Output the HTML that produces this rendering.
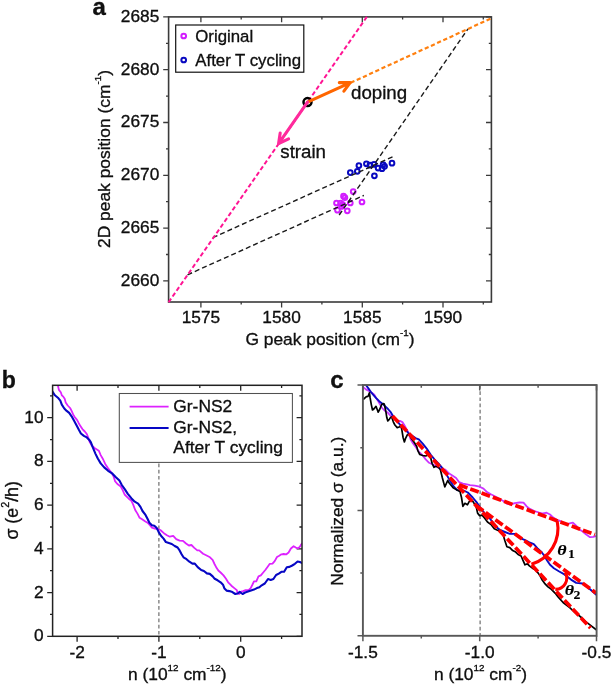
<!DOCTYPE html>
<html><head><meta charset="utf-8"><style>
html,body{margin:0;padding:0;background:#fff;}
svg{display:block;font-family:"Liberation Sans", sans-serif;fill:#111;will-change:transform;}
text{stroke:#000;stroke-width:0.3px;}
</style></head><body>
<svg width="612" height="685" viewBox="0 0 612 685" font-family='"Liberation Sans", sans-serif' fill="#111">
<g id="pa">
<path d="M200.9,302.0v5.4M200.9,16.9v5.4M281.6,302.0v5.4M281.6,16.9v5.4M362.3,302.0v5.4M362.3,16.9v5.4M443.0,302.0v5.4M443.0,16.9v5.4M241.2,302.0v2.6M241.2,16.9v2.6M321.9,302.0v2.6M321.9,16.9v2.6M402.6,302.0v2.6M402.6,16.9v2.6M483.3,302.0v2.6M483.3,16.9v2.6M168.6,280.9h-5.4M491.4,280.9h-5.4M168.6,228.1h-5.4M491.4,228.1h-5.4M168.6,175.3h-5.4M491.4,175.3h-5.4M168.6,122.5h-5.4M491.4,122.5h-5.4M168.6,69.7h-5.4M491.4,69.7h-5.4M168.6,16.9h-5.4M491.4,16.9h-5.4M168.6,254.5h-2.6M491.4,254.5h-2.6M168.6,201.7h-2.6M491.4,201.7h-2.6M168.6,148.9h-2.6M491.4,148.9h-2.6M168.6,96.1h-2.6M491.4,96.1h-2.6M168.6,43.3h-2.6M491.4,43.3h-2.6" stroke="#3a3a3a" stroke-width="1.3" fill="none"/>
<rect x="168.6" y="16.9" width="322.8" height="285.1" fill="none" stroke="#3a3a3a" stroke-width="1.6"/>
<text x="159.3" y="285.8" text-anchor="end" font-size="17.3">2660</text>
<text x="159.3" y="233.0" text-anchor="end" font-size="17.3">2665</text>
<text x="159.3" y="180.2" text-anchor="end" font-size="17.3">2670</text>
<text x="159.3" y="127.4" text-anchor="end" font-size="17.3">2675</text>
<text x="159.3" y="74.6" text-anchor="end" font-size="17.3">2680</text>
<text x="159.3" y="21.8" text-anchor="end" font-size="17.3">2685</text>
<text x="200.9" y="323.4" text-anchor="middle" font-size="17.3">1575</text>
<text x="281.6" y="323.4" text-anchor="middle" font-size="17.3">1580</text>
<text x="362.3" y="323.4" text-anchor="middle" font-size="17.3">1585</text>
<text x="443.0" y="323.4" text-anchor="middle" font-size="17.3">1590</text>
<text x="330" y="344.6" text-anchor="middle" font-size="17.4">G peak position (cm<tspan font-size="9.9" dy="-8.5">-1</tspan><tspan dy="8.5">)</tspan></text>
<text transform="translate(109.8,159) rotate(-90)" x="0" y="0" text-anchor="middle" font-size="17.4">2D peak position (cm<tspan font-size="9.9" dy="-8.5">-1</tspan><tspan dy="8.5">)</tspan></text>
<text x="92.4" y="14.6" font-size="24" font-weight="bold">a</text>
<circle cx="353.2" cy="191.5" r="2.35" fill="none" stroke="#d21cff" stroke-width="2.0"/>
<circle cx="343.5" cy="196.2" r="2.35" fill="none" stroke="#d21cff" stroke-width="2.0"/>
<circle cx="344.9" cy="197.6" r="2.35" fill="none" stroke="#d21cff" stroke-width="2.0"/>
<circle cx="336.5" cy="203" r="2.35" fill="none" stroke="#d21cff" stroke-width="2.0"/>
<circle cx="350.3" cy="203" r="2.35" fill="none" stroke="#d21cff" stroke-width="2.0"/>
<circle cx="342.7" cy="204.6" r="2.35" fill="none" stroke="#d21cff" stroke-width="2.0"/>
<circle cx="340.6" cy="203.2" r="2.35" fill="none" stroke="#d21cff" stroke-width="2.0"/>
<circle cx="362" cy="202" r="2.35" fill="none" stroke="#d21cff" stroke-width="2.0"/>
<circle cx="337.5" cy="210.2" r="2.35" fill="none" stroke="#d21cff" stroke-width="2.0"/>
<circle cx="347.3" cy="210.8" r="2.35" fill="none" stroke="#d21cff" stroke-width="2.0"/>
<circle cx="341.5" cy="206.5" r="2.35" fill="none" stroke="#d21cff" stroke-width="2.0"/>
<circle cx="350.3" cy="172.6" r="2.35" fill="none" stroke="#0808c0" stroke-width="2.0"/>
<circle cx="357.3" cy="171.3" r="2.35" fill="none" stroke="#0808c0" stroke-width="2.0"/>
<circle cx="358.9" cy="165.6" r="2.35" fill="none" stroke="#0808c0" stroke-width="2.0"/>
<circle cx="366.4" cy="163.8" r="2.35" fill="none" stroke="#0808c0" stroke-width="2.0"/>
<circle cx="369.9" cy="165.2" r="2.35" fill="none" stroke="#0808c0" stroke-width="2.0"/>
<circle cx="374" cy="164.4" r="2.35" fill="none" stroke="#0808c0" stroke-width="2.0"/>
<circle cx="374.4" cy="175.8" r="2.35" fill="none" stroke="#0808c0" stroke-width="2.0"/>
<circle cx="378.1" cy="168.1" r="2.35" fill="none" stroke="#0808c0" stroke-width="2.0"/>
<circle cx="383.1" cy="164.6" r="2.35" fill="none" stroke="#0808c0" stroke-width="2.0"/>
<circle cx="384.6" cy="166.3" r="2.35" fill="none" stroke="#0808c0" stroke-width="2.0"/>
<circle cx="382.0" cy="168.7" r="2.35" fill="none" stroke="#0808c0" stroke-width="2.0"/>
<circle cx="392" cy="163.2" r="2.35" fill="none" stroke="#0808c0" stroke-width="2.0"/>
<line x1="187.5" y1="274.8" x2="363.9" y2="195.4" stroke="#1a1a1a" stroke-width="1.4" stroke-dasharray="5 3"/>
<line x1="212.8" y1="237.6" x2="394.1" y2="156.2" stroke="#1a1a1a" stroke-width="1.4" stroke-dasharray="5 3"/>
<line x1="339.2" y1="215.0" x2="468.0" y2="28.8" stroke="#1a1a1a" stroke-width="1.4" stroke-dasharray="5 3"/>
<line x1="168.6" y1="302.2" x2="366.8" y2="16.9" stroke="#ff1493" stroke-width="2.0" stroke-dasharray="4.4 2.6"/>
<line x1="350.6" y1="82.8" x2="491.4" y2="18.2" stroke="#ff8010" stroke-width="2.2" stroke-dasharray="4.2 2.6"/>
<circle cx="307.5" cy="102.1" r="4.0" fill="none" stroke="#000" stroke-width="2.5"/>
<path d="M307.5,102.1L349.8,82.8M339.3,82.6L350.2,82.6L343.9,91.2" stroke="#ff6600" stroke-width="3.1" fill="none" stroke-linejoin="round" stroke-linecap="round"/>
<path d="M307.5,102.1L278.6,143.6M280.2,133.0L278.6,143.6L288.6,138.8" stroke="#ff2a9c" stroke-width="3.1" fill="none" stroke-linejoin="round" stroke-linecap="round"/>
<text x="351" y="99.2" font-size="18.7">doping</text>
<text x="280.3" y="157.9" font-size="18.7">strain</text>
<rect x="175.7" y="25" width="128.1" height="47.2" fill="#fff" stroke="#111" stroke-width="1.2"/>
<circle cx="183.7" cy="36" r="2.35" fill="none" stroke="#d21cff" stroke-width="2.0"/>
<circle cx="183.7" cy="60" r="2.35" fill="none" stroke="#0808c0" stroke-width="2.0"/>
<text x="195.3" y="42.2" font-size="16.8">Original</text>
<text x="195.3" y="65.8" font-size="16.8">After T cycling</text>
</g>
<path d="M77.1,636.3v5.4M77.1,385.3v5.4M158.9,636.3v5.4M158.9,385.3v5.4M240.7,636.3v5.4M240.7,385.3v5.4M118.0,636.3v2.6M118.0,385.3v2.6M199.8,636.3v2.6M199.8,385.3v2.6M281.6,636.3v2.6M281.6,385.3v2.6M52.6,636.3h-5.4M302.0,636.3h-5.4M52.6,592.6h-5.4M302.0,592.6h-5.4M52.6,548.9h-5.4M302.0,548.9h-5.4M52.6,505.1h-5.4M302.0,505.1h-5.4M52.6,461.4h-5.4M302.0,461.4h-5.4M52.6,417.7h-5.4M302.0,417.7h-5.4M52.6,614.4h-2.6M302.0,614.4h-2.6M52.6,570.7h-2.6M302.0,570.7h-2.6M52.6,527.0h-2.6M302.0,527.0h-2.6M52.6,483.3h-2.6M302.0,483.3h-2.6M52.6,439.6h-2.6M302.0,439.6h-2.6M52.6,395.8h-2.6M302.0,395.8h-2.6" stroke="#222" stroke-width="1.3" fill="none"/>
<line x1="158.9" y1="463.5" x2="158.9" y2="636.3" stroke="#606060" stroke-width="1.1" stroke-dasharray="3.7 2.5"/>
<defs><clipPath id="cb"><rect x="52.6" y="385.3" width="249.4" height="250.99999999999994"/></clipPath><clipPath id="cc"><rect x="362.9" y="385" width="233.7" height="250.8"/></clipPath></defs>
<g clip-path="url(#cb)" fill="none" stroke-width="1.9" stroke-linejoin="round">
<polyline points="57.4,383.5 57.9,385.5 58.9,389.9 60.8,392.3 61.8,395.3 63.3,396.7 64.7,398.7 65.7,402.6 67.7,405.5 70.1,408.0 71.6,410.9 73.1,414.4 74.5,416.8 77.0,419.8 78.5,422.7 80.4,426.1 82.4,429.1 84.8,431.5 86.8,434.0 88.3,437.9 89.6,441.8 91.9,445.8 94.9,448.2 98.8,450.7 100.7,455.1 103.2,459.5 105.2,463.9 108.1,468.3 111.5,472.7 113.5,476.2 115.0,481.1 117.4,484.0 120.8,486.5 122.8,490.4 124.6,494.5 126.4,496.3 128.3,498.2 131.3,500.7 133.2,504.6 135.2,510.0 137.6,513.9 139.6,517.8 142.1,519.3 145.0,521.3 147.5,522.7 149.9,525.2 151.9,527.6 154.8,528.6 157.7,529.1 160.3,530.0 163.9,533.2 166.9,535.2 169.8,536.7 173.2,535.9 176.2,539.1 179.6,540.6 183.0,540.8 186.0,543.5 188.9,545.5 191.4,545.0 194.3,547.9 197.3,550.4 199.2,550.4 203.1,553.8 207.1,555.8 210.0,557.3 212.6,559.9 214.5,564.0 216.5,567.8 218.3,570.5 220.6,572.5 223.5,575.4 226.0,578.8 228.4,582.7 231.4,585.7 234.3,588.1 236.8,590.1 237.7,593.5 239.2,594.0 241.2,591.6 243.1,591.1 245.6,590.1 248.5,590.1 250.7,588.1 252.5,584.5 254.0,581.3 256.3,581.3 258.5,576.3 260.8,575.4 263.0,572.7 265.3,570.0 267.5,566.9 269.8,563.8 272.5,563.6 274.7,561.1 277.0,557.0 279.2,555.7 281.4,554.3 283.7,554.0 286.4,554.3 288.6,552.5 290.9,548.5 293.6,546.2 295.8,547.6 298.1,548.3 299.9,546.7 301.2,544.4 303.0,542.8" stroke="#dd22ff" stroke-width="1.8"/>
<polyline points="51.5,390.5 52.6,391.8 54.9,395.3 57.9,397.7 60.3,400.6 61.8,404.6 64.3,408.5 66.7,410.9 69.2,412.9 71.6,416.3 74.1,420.7 76.5,425.2 79.0,430.1 80.9,433.5 83.9,435.9 86.8,437.4 89.3,439.9 90.9,442.4 92.9,447.7 95.4,453.6 97.8,458.5 100.7,463.4 104.2,467.4 108.1,470.8 112.5,473.7 115.9,477.2 119.4,480.6 121.8,485.0 124.9,489.4 127.8,493.8 131.3,498.2 134.7,501.7 138.1,503.6 140.6,507.1 142.5,511.0 145.5,514.9 147.5,518.8 149.4,522.7 151.9,525.2 154.3,525.7 156.8,528.1 158.7,532.1 161.2,536.0 163.6,538.6 165.9,542.1 168.8,543.0 171.8,544.0 174.7,546.0 177.6,547.5 179.6,550.4 181.6,554.3 183.5,557.3 186.5,559.2 189.4,561.7 192.4,563.6 194.8,563.6 197.7,567.1 201.2,570.0 203.9,571.0 206.9,573.4 209.8,573.9 212.7,576.4 214.7,578.8 217.6,580.3 220.6,582.3 223.0,584.7 224.5,588.6 226.5,590.6 229.4,591.1 232.4,592.1 235.3,594.0 237.7,593.5 239.7,591.9 241.2,593.0 242.6,594.0 245.1,592.5 248.0,591.6 251.0,590.6 253.9,589.6 256.9,588.1 259.4,587.3 261.7,585.3 264.8,583.5 268.0,579.0 270.7,579.9 273.4,579.0 276.1,575.0 278.8,573.6 281.4,571.8 284.1,571.8 286.8,567.3 289.5,566.9 292.2,565.5 294.9,563.8 297.6,561.5 299.9,562.0 301.7,562.9 303.0,563.4" stroke="#0606c4" stroke-width="2.1"/>
</g>
<rect x="52.6" y="385.3" width="249.4" height="251.0" fill="none" stroke="#222" stroke-width="1.5"/>
<text x="43.6" y="641.2" text-anchor="end" font-size="17.3">0</text>
<text x="43.6" y="597.5" text-anchor="end" font-size="17.3">2</text>
<text x="43.6" y="553.8" text-anchor="end" font-size="17.3">4</text>
<text x="43.6" y="510.0" text-anchor="end" font-size="17.3">6</text>
<text x="43.6" y="466.3" text-anchor="end" font-size="17.3">8</text>
<text x="43.6" y="422.6" text-anchor="end" font-size="17.3">10</text>
<text x="77.1" y="658" text-anchor="middle" font-size="17.3">-2</text>
<text x="158.9" y="658" text-anchor="middle" font-size="17.3">-1</text>
<text x="240.7" y="658" text-anchor="middle" font-size="17.3">0</text>
<text x="177.3" y="679.5" text-anchor="middle" font-size="17.4">n (10<tspan font-size="9.9" dy="-8.5">12</tspan><tspan dy="8.5"> cm</tspan><tspan font-size="9.9" dy="-8.5">-12</tspan><tspan dy="8.5">)</tspan></text>
<text transform="translate(18.2,510.3) rotate(-90)" x="0" y="0" text-anchor="middle" font-size="17.8">σ (e<tspan font-size="10.8" dy="-9.3">2</tspan><tspan dy="9.3">/h)</tspan></text>
<text x="1.8" y="387.7" font-size="23" font-weight="bold">b</text>
<rect x="119.3" y="393.5" width="173.1" height="68.9" fill="#fff" stroke="#505050" stroke-width="1.05"/>
<line x1="129.6" y1="406.7" x2="168.6" y2="406.7" stroke="#dd22ff" stroke-width="1.8"/>
<line x1="129.6" y1="428" x2="168.6" y2="428" stroke="#0606c4" stroke-width="2"/>
<text x="173.3" y="412" font-size="17.4">Gr-NS2</text>
<text x="173.3" y="433.2" font-size="17.4">Gr-NS2,</text>
<text x="173.3" y="452.8" font-size="17.4">After T cycling</text>
<path d="M362.9,635.8v5.4M362.9,385.0v5.4M479.7,635.8v5.4M479.7,385.0v5.4M596.5,635.8v5.4M596.5,385.0v5.4M421.3,635.8v2.8M421.3,385.0v2.8M538.1,635.8v2.8M538.1,385.0v2.8M362.9,385.0h-5.4M362.9,510.4h-5.4M362.9,635.8h-5.4M362.9,447.7h-2.6M362.9,573.1h-2.6" stroke="#585858" stroke-width="1.5" fill="none"/>
<line x1="480.1" y1="385.0" x2="480.1" y2="635.8" stroke="#606060" stroke-width="1.1" stroke-dasharray="3.7 2.5"/>
<g clip-path="url(#cc)" fill="none" stroke-linejoin="round">
<polyline points="362.5,386.8 363.5,387.4 365.9,389.4 368.9,390.9 371.8,392.8 374.3,394.8 376.2,398.2 378.2,401.2 380.1,404.6 382.1,408.0 384.5,410.5 387.5,412.4 390.0,415.2 392.6,417.2 396.5,420.5 399.8,420.8 402.4,422.1 404.1,424.7 405.7,427.6 408.0,431.6 409.6,436.1 410.9,440.1 412.9,443.3 415.9,447.2 418.8,451.6 422.7,455.5 425.7,459.4 429.1,462.8 433.5,464.8 437.5,467.3 441.4,468.7 445.3,469.7 449.2,473.6 453.1,476.1 456.1,478.0 459.0,482.0 462.9,483.6 466.9,484.4 470.0,485.2 474.7,485.7 479.6,486.7 483.5,488.6 487.0,492.1 491.4,494.5 496.3,497.0 500.0,499.3 502.9,500.8 506.9,503.7 510.8,504.7 514.7,503.2 519.6,502.5 523.5,502.7 526.5,506.2 529.4,508.6 534.3,511.1 539.2,512.5 543.1,513.5 546.6,512.7 550.0,514.5 553.3,517.6 556.5,519.6 560.6,521.2 566.3,524.5 569.6,523.3 572.9,522.7 576.1,525.7 579.4,529.4 582.7,531.5 585.9,534.3 590.0,537.2 593.3,536.8 596.6,535.9" stroke="#cc33ff" stroke-width="1.8"/>
<polyline points="365.2,384.5 365.9,385.0 368.4,388.4 370.8,391.8 373.3,394.8 376.2,398.2 379.2,401.2 382.1,403.4 385.0,406.1 388.0,409.0 390.9,412.4 393.3,416.5 399.8,424.4 408.3,432.9 415.5,438.1 418.8,439.4 422.7,443.7 426.7,448.6 430.6,454.5 434.5,459.4 438.4,463.3 442.4,468.2 446.3,474.1 450.2,481.0 454.1,486.9 457.1,490.0 460.0,490.6 463.9,490.6 467.8,492.5 472.7,497.5 476.7,502.4 480.6,508.2 484.5,513.1 489.4,518.0 493.3,522.9 497.3,527.8 500.0,530.0 504.9,532.0 509.8,533.9 514.7,533.9 519.6,537.8 524.5,539.8 529.4,542.3 533.8,544.2 537.3,548.1 541.2,551.6 544.1,555.5 547.1,560.4 550.0,564.8 553.9,568.2 558.8,571.2 564.4,574.4 571.0,579.6 576.2,582.9 582.7,583.5 588.0,587.5 596.6,595.0" stroke="#0a0ac4" stroke-width="1.9"/>
<polyline points="363.0,399.2 363.7,399.0 366.4,396.7 368.1,396.3 369.4,392.8 370.1,397.7 371.3,404.6 372.5,410.0 374.3,408.5 376.0,406.3 377.2,409.5 378.2,412.2 379.9,409.0 381.6,404.6 383.1,403.6 384.3,404.1 385.0,407.5 386.0,412.4 386.8,417.6 387.8,420.9 389.1,419.6 390.4,417.6 391.7,417.0 393.3,421.8 394.9,425.0 397.2,427.6 399.2,427.0 400.8,425.7 401.8,429.6 403.1,437.5 404.4,442.0 405.7,438.1 407.3,434.8 409.0,434.2 411.6,438.8 414.8,443.3 416.8,446.6 417.8,450.6 419.8,454.5 422.7,455.5 425.7,456.0 428.1,455.0 430.6,457.5 432.1,463.3 434.0,467.3 436.0,466.3 438.4,467.3 440.4,469.7 442.4,478.0 444.8,486.9 447.7,480.5 449.2,483.0 453.1,487.8 457.0,490.0 460.0,491.6 461.5,497.5 462.9,506.3 464.9,503.3 467.4,504.8 469.3,501.4 471.3,499.9 473.2,501.9 476.2,506.8 477.6,513.1 479.6,515.6 482.1,515.1 484.5,518.0 487.5,522.0 491.4,524.9 494.3,528.8 497.0,530.0 500.0,531.0 502.9,533.9 504.9,540.8 506.9,546.7 509.8,547.6 512.7,550.6 515.7,552.1 518.1,554.5 521.1,556.0 523.0,560.4 525.0,564.8 527.5,563.8 529.4,565.8 532.4,568.2 535.3,569.7 538.2,573.1 540.2,576.1 542.2,580.0 545.1,583.9 548.0,586.9 551.4,589.4 555.3,593.3 557.9,596.6 563.1,602.5 569.7,607.7 574.9,612.3 581.4,617.5 585.4,621.4 590.6,625.4 596.6,630.0" stroke="#000" stroke-width="1.7"/>
<line x1="392.5" y1="416.0" x2="590.5" y2="628.0" stroke="#ff0000" stroke-width="3.7" stroke-dasharray="9 3"/>
<line x1="459.0" y1="484.8" x2="595.0" y2="534.6" stroke="#ff0000" stroke-width="3.7" stroke-dasharray="9 3"/>
<line x1="476.0" y1="505.5" x2="596.0" y2="593.0" stroke="#ff0000" stroke-width="3.7" stroke-dasharray="9 3"/>
<path d="M557.2,521 A37.5,37.5 0 0 1 531.4,564.3" stroke="#ff0000" stroke-width="3.1" fill="none"/>
<path d="M565.1,572.4 A11.2,11.2 0 0 1 555.3,589.4" stroke="#ff0000" stroke-width="3.1" fill="none"/>
</g>
<rect x="362.9" y="385.0" width="233.7" height="250.8" fill="none" stroke="#585858" stroke-width="1.9"/>
<text x="362.9" y="658" text-anchor="middle" font-size="17.3">-1.5</text>
<text x="479.7" y="658" text-anchor="middle" font-size="17.3">-1.0</text>
<text x="596.5" y="658" text-anchor="middle" font-size="17.3">-0.5</text>
<text x="480.5" y="679.5" text-anchor="middle" font-size="17.4">n (10<tspan font-size="9.9" dy="-8.5">12</tspan><tspan dy="8.5"> cm</tspan><tspan font-size="9.9" dy="-8.5">-2</tspan><tspan dy="8.5">)</tspan></text>
<text transform="translate(343.0,511.2) rotate(-90)" x="0" y="0" text-anchor="middle" font-size="17.4">Normalized σ (a.u.)</text>
<text x="330.3" y="387.5" font-size="24" font-weight="bold">c</text>
<g font-family="Liberation Serif" font-weight="bold" fill="#000" style="stroke-width:0.1px"><text transform="translate(557.3,555.2) scale(1.15,1)" font-style="italic" font-size="15.6" style="stroke-width:0.1px">θ</text><text transform="translate(568.0,558.2) scale(1.2,1)" font-size="11.5" style="stroke-width:0.1px">1</text></g>
<g font-family="Liberation Serif" font-weight="bold" fill="#000" style="stroke-width:0.1px"><text transform="translate(564.7,594.6) scale(1.15,1)" font-style="italic" font-size="15.6" style="stroke-width:0.1px">θ</text><text transform="translate(573.6,598.5) scale(1.2,1)" font-size="11.5" style="stroke-width:0.1px">2</text></g>
</svg>
</body></html>
